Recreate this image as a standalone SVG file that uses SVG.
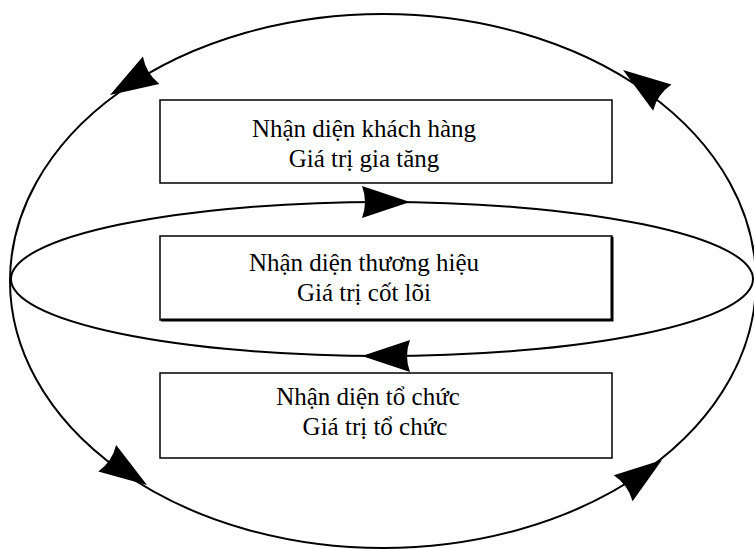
<svg xmlns="http://www.w3.org/2000/svg" width="754" height="549" viewBox="0 0 754 549">
  <style>
    .bg { fill: #ffffff; }
    .loop { fill: none; stroke: #000000; stroke-width: 2; }
    .box { fill: #ffffff; stroke: #000000; stroke-width: 1.5; }
    .shadow { fill: none; stroke: #000000; stroke-width: 3; }
    .label { font-family: "Liberation Serif", "Times New Roman", serif; font-size: 25px; fill: #000000; text-anchor: middle; }
    .head { fill: #000000; }
  </style>
  <defs>
    <!-- stealth-style arrowhead, tip at the origin, pointing along +x -->
    <path id="stealth" d="M0,0 L-48,-16 Q-42,0 -48,16 Z"/>
  </defs>
  <rect class="bg" x="0" y="0" width="754" height="549"/>

  <g id="connectors">
    <!-- outer cycle -->
    <ellipse class="loop" cx="383" cy="281" rx="373" ry="267"/>
    <!-- inner cycle -->
    <ellipse class="loop" cx="382" cy="279" rx="371" ry="77"/>
    <!-- arrowheads on the inner cycle -->
    <use href="#stealth" class="head" transform="translate(410,202) rotate(0)"/>
    <use href="#stealth" class="head" transform="translate(362,356) rotate(180)"/>
    <!-- arrowheads on the outer cycle -->
    <use href="#stealth" class="head" transform="translate(110,95) rotate(149)"/>
    <use href="#stealth" class="head" transform="translate(147,485) rotate(34)"/>
    <use href="#stealth" class="head" transform="translate(662,460) rotate(-36)"/>
    <use href="#stealth" class="head" transform="translate(623,70) rotate(-145)"/>
  </g>

  <g id="node-khach-hang">
    <rect class="box" x="160" y="100" width="452" height="83"/>
    <text class="label" x="364" y="137">Nhận diện khách hàng</text>
    <text class="label" x="364" y="167">Giá trị gia tăng</text>
  </g>

  <g id="node-thuong-hieu">
    <rect class="box" x="160" y="236" width="452" height="84"/>
    <polyline class="shadow" points="161,320 612,320 612,237"/>
    <text class="label" x="364" y="271">Nhận diện thương hiệu</text>
    <text class="label" x="364" y="301">Giá trị cốt lõi</text>
  </g>

  <g id="node-to-chuc">
    <rect class="box" x="160" y="373" width="452" height="85"/>
    <text class="label" x="368" y="405">Nhận diện tổ chức</text>
    <text class="label" x="375" y="435">Giá trị tổ chức</text>
  </g>
</svg>
